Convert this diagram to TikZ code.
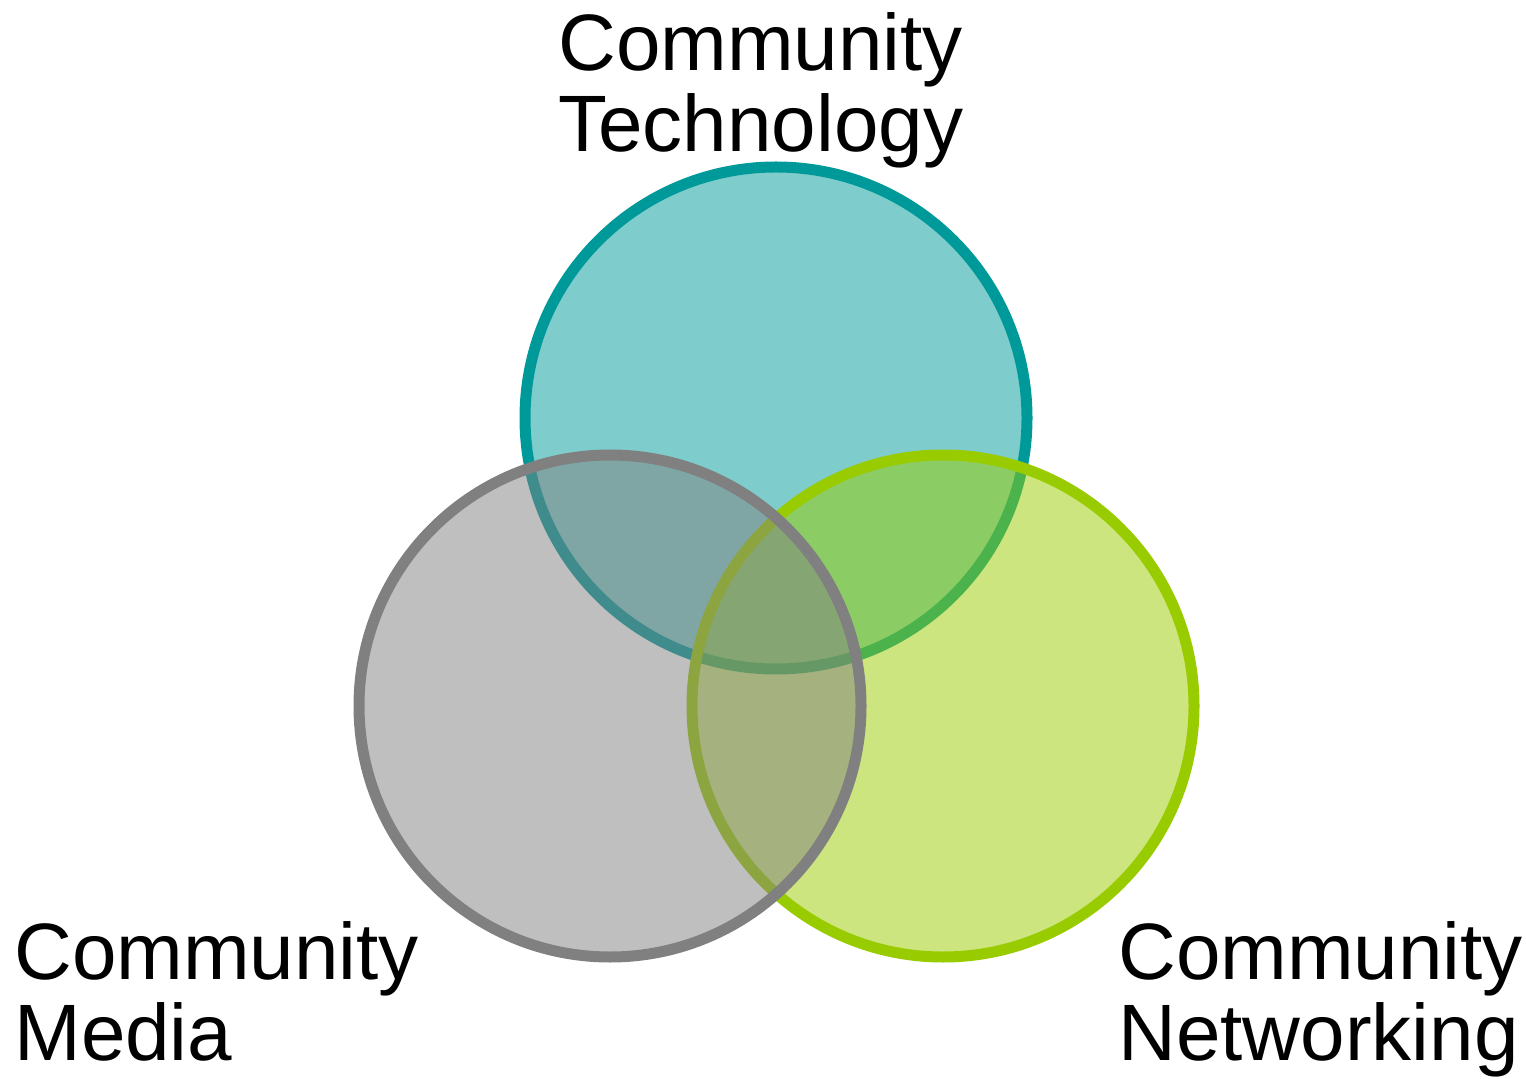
\documentclass[tikz,border=0pt]{standalone}
\usepackage{fontspec}
\setmainfont{Liberation Sans}
\usepackage{tikz}
\definecolor{techteal}{HTML}{009999}
\definecolor{mediagray}{HTML}{808080}
\definecolor{netgreen}{HTML}{99CC00}

\begin{document}
\begin{tikzpicture}[
    x=0.5pt, y=-0.5pt,
    venn/.style={circle, draw=#1, fill=#1, fill opacity=0.5, draw opacity=1,
                 line width=5.5pt, minimum size=251pt, inner sep=0pt},
    lbl/.style={font=\fontsize{40}{40.5}\selectfont, align=left,
                inner sep=0pt, anchor=base west}
]
\useasboundingbox (0,0) rectangle (1526,1079);
\node[venn=techteal]  (tech) at (776,418) {};
\node[venn=netgreen]  (net)  at (943,706) {};
\node[venn=mediagray] (media) at (610,706) {};
\node[lbl] (techlbl)  at (558,152)  {Community\\Technology};
\node[lbl] (medialbl) at (14,1060)  {Community\\Media};
\node[lbl] (netlbl)   at (1118,1060) {Community\\Networking};
\end{tikzpicture}
\end{document}
